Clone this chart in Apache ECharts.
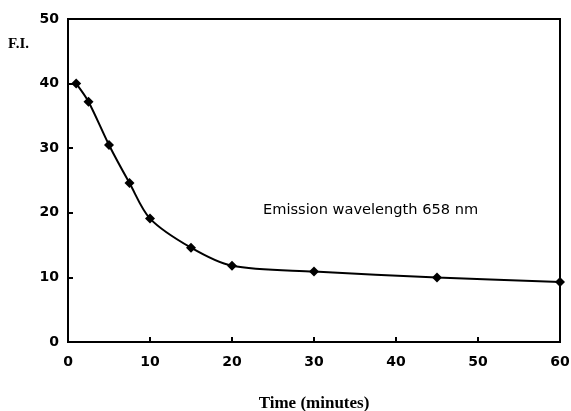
<!DOCTYPE html>
<html><head><meta charset="utf-8">
<script src="https://cdn.jsdelivr.net/npm/echarts@6/dist/echarts.min.js"></script>
<style>html,body{margin:0;padding:0;background:#fff}#c{width:571px;height:411px}</style>
</head><body><div id="c"></div>
<script>
const timeMinutes = [1, 2.5, 5, 7.5, 10, 15, 20, 30, 45, 60];
const fluorescence = [40, 37.2, 30.5, 24.6, 19.1, 14.6, 11.8, 10.9, 10.0, 9.3];
const xTicks = [0, 10, 20, 30, 40, 50, 60];
const yTicks = [0, 10, 20, 30, 40, 50];

const chart = echarts.init(document.getElementById('c'));
const tickFont = {fontFamily: 'DejaVu Sans', fontWeight: 'bold', fontSize: 14, color: '#000'};
chart.setOption({
  animation: false,
  backgroundColor: '#fff',
  grid: {left: 68, right: 11, top: 19, bottom: 69, show: true, borderColor: '#000', borderWidth: 2, backgroundColor: 'transparent', outerBoundsMode: 'none', containLabel: false},
  xAxis: {
    type: 'value', min: xTicks[0], max: xTicks[xTicks.length - 1], interval: 10,
    axisLine: {show: true, lineStyle: {color: '#000', width: 2}},
    axisTick: {show: true, inside: true, length: 5, lineStyle: {color: '#000', width: 2}},
    axisLabel: Object.assign({margin: 13}, tickFont),
    splitLine: {show: false},
    name: 'Time (minutes)', nameLocation: 'middle', nameGap: 53,
    nameTextStyle: {fontFamily: 'Liberation Serif', fontWeight: 'bold', fontSize: 17, color: '#000'}
  },
  yAxis: {
    type: 'value', min: yTicks[0], max: yTicks[yTicks.length - 1], interval: 10,
    axisLine: {show: true, lineStyle: {color: '#000', width: 2}},
    axisTick: {show: true, inside: true, length: 5, lineStyle: {color: '#000', width: 2}},
    axisLabel: Object.assign({margin: 9}, tickFont),
    splitLine: {show: false}
  },
  graphic: [
    {type: 'text', left: 8, top: 37, style: {text: 'F.I.', fontFamily: 'Liberation Serif', fontWeight: 'bold', fontSize: 15, fill: '#000'}},
    {type: 'text', left: 263, top: 203, style: {text: 'Emission wavelength 658 nm', fontFamily: 'DejaVu Sans', fontSize: 14.6, fill: '#000'}}
  ],
  series: [{
    type: 'line',
    data: timeMinutes.map((t, i) => [t, fluorescence[i]]),
    smooth: 0.3,
    symbol: 'diamond', symbolSize: 10,
    lineStyle: {color: '#000', width: 2},
    itemStyle: {color: '#000'}
  }]
});
</script></body></html>
